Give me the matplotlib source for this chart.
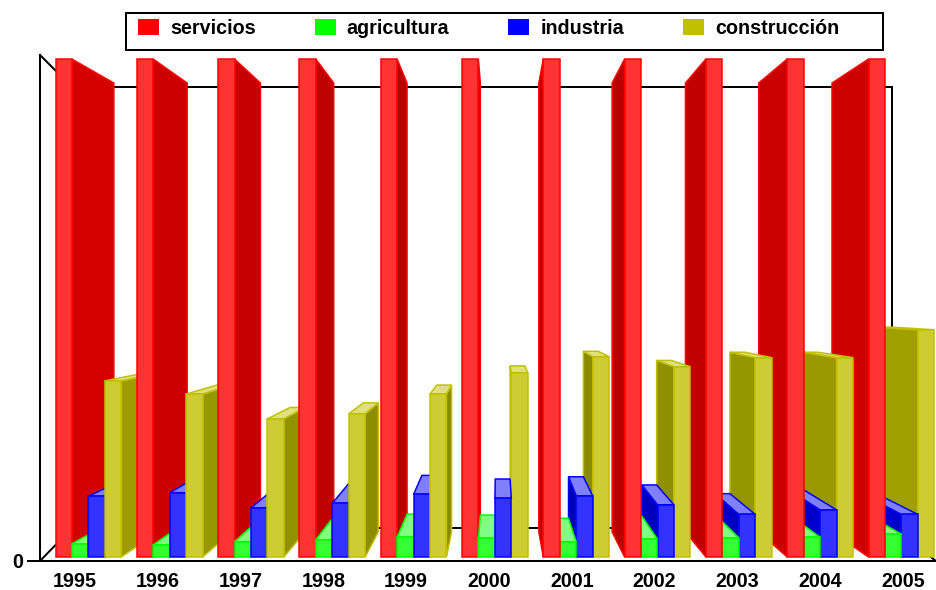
import matplotlib
matplotlib.use("Agg")
import matplotlib.pyplot as plt
from matplotlib.patches import Polygon, Patch, Rectangle
from matplotlib.colors import to_rgb

years = [1995, 1996, 1997, 1998, 1999, 2000, 2001, 2002, 2003, 2004, 2005]
series_names = ["servicios", "agricultura", "industria", "construcción"]
servicios = [99.2, 99.2, 99.2, 99.2, 99.2, 99.2, 99.2, 99.2, 99.2, 99.2, 99.2]
agricultura = [3.4, 3.2, 3.8, 4.2, 4.7, 4.5, 3.8, 4.3, 4.6, 4.7, 5.3]
industria = [12.8, 13.5, 10.5, 11.4, 13.2, 12.4, 12.9, 11.1, 9.2, 10.1, 9.2]
construccion = [35.6, 33.0, 28.1, 29.1, 33.0, 37.2, 40.4, 38.4, 40.2, 40.2, 45.7]
series_values = [servicios, agricultura, industria, construccion]
series_colors = ["#FF0000", "#00FF00", "#0000FF", "#C0C000"]

PX = 1 / 100 * 72  # one pixel in points at dpi 100
W, H = 936, 590
FONT = "Liberation Sans"

fig = plt.figure(figsize=(W / 100, H / 100), dpi=100, facecolor="white")
ax = fig.add_axes([40 / W, (H - 561) / H, 896 / W, 506 / H])
XU, YU = 81.3, 5.06  # pixels per data unit
ax.set_xlim((40 - 55.5) / XU, (936 - 55.5) / XU)
ax.set_ylim(0, 100)
ax.patch.set_alpha(0)

# perspective of the bars
VX, VY = (498 - 55.5) / XU, (561 - 303) / YU
K = 0.0985
BAR_W = 16.4 / XU
STEP = 0.2025
BASE = 0.8


def back(x, y):
    return VX + (1 - K) * (x - VX), VY + (1 - K) * (y - VY)


def mix(c, f, white=0.0):
    r = to_rgb(c)
    return tuple(min(1, v * f + white) for v in r)


def bar_faces(x0, value, color):
    x1 = x0 + BAR_W
    faces = []
    edge = x1 if x1 < VX else (x0 if x0 > VX else None)
    if edge is not None:
        bx, _ = back(edge, BASE)
        f = 0.69 + 0.0033 * abs(bx - edge) * XU
        faces.append(([(edge, BASE), (edge, value), back(edge, value), back(edge, BASE)],
                      mix(color, f)))
    if value < VY:
        faces.append(([(x0, value), (x1, value), back(x1, value), back(x0, value)],
                      mix(color, 0.5, 0.5)))
    faces.append(([(x0, BASE), (x1, BASE), (x1, value), (x0, value)], mix(color, 0.8, 0.2)))
    return faces


bars = []
for s, values in enumerate(series_values):
    for i, v in enumerate(values):
        x0 = i + s * STEP
        bars.append((abs(x0 + BAR_W / 2 - VX), x0, v, series_colors[s]))
bars.sort(key=lambda b: -b[0])

z = 3
for _, x0, v, color in bars:
    for pts, fc in bar_faces(x0, v, color):
        ax.add_patch(Polygon(pts, closed=True, facecolor=fc, edgecolor=color,
                             linewidth=1.5 * PX, zorder=z, joinstyle="miter", clip_on=False))
        z += 0.001


# back wall and floor lines, in axes fractions
def fx(px):
    return (px - 40) / 896


def fy(py):
    return (561 - py) / 506


wall = dict(transform=ax.transAxes, color="black", linewidth=2 * PX, zorder=1,
            clip_on=False, solid_joinstyle="miter")
ax.plot([fx(40), fx(72), fx(892), fx(892), fx(72), fx(40)],
        [fy(55), fy(87), fy(87), fy(528), fy(528), fy(561)], **wall)
ax.plot([fx(892), fx(936)], [fy(528), fy(561)], **wall)

# axes
for side in ("top", "right"):
    ax.spines[side].set_visible(False)
for side in ("left", "bottom"):
    ax.spines[side].set_linewidth(2 * PX)
    ax.spines[side].set_zorder(2)
ax.set_yticks([0], ["0"])
ax.set_xticks([(75 + 82.8 * i - 55.5) / XU for i in range(len(years))], [str(y) for y in years])
ax.tick_params(axis="y", length=13 * PX, width=2 * PX, pad=4 * PX)
ax.tick_params(axis="x", length=0, pad=11 * PX)
for t in ax.get_xticklabels() + ax.get_yticklabels():
    t.set_fontfamily(FONT)
    t.set_fontweight("bold")
    t.set_fontsize(14.25)

# legend: frame drawn separately since the reference leaves a wide right margin
fig.add_artist(Rectangle((126 / W, (H - 50) / H), 757 / W, 37 / H, transform=fig.transFigure,
                         facecolor="white", edgecolor="black", linewidth=2 * PX, zorder=9))
handles = [Patch(facecolor=c, edgecolor="none", label=n) for c, n in zip(series_colors, series_names)]
leg = fig.legend(handles=handles, ncol=4, loc="center left",
                 bbox_to_anchor=(138 / W, (H - 28) / H),
                 prop={"family": FONT, "weight": "bold", "size": 14.25},
                 frameon=False,
                 handlelength=21 / 19.8, handleheight=17 / 19.8, handletextpad=11 / 19.8,
                 columnspacing=59 / 19.8, borderpad=0, borderaxespad=0)
leg.set_zorder(10)

fig.savefig("out.png", dpi=100)
